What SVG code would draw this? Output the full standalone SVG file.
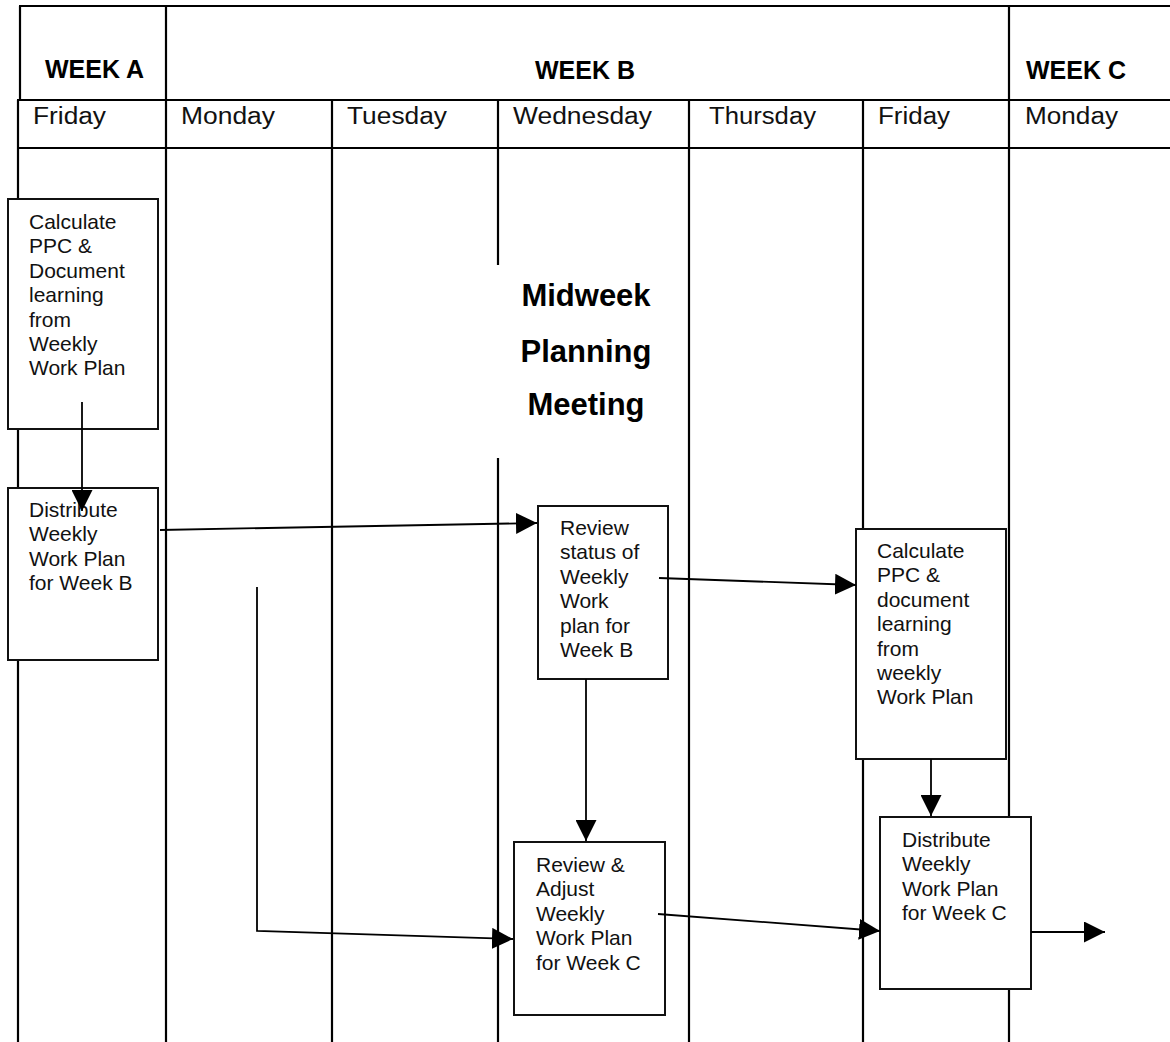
<svg xmlns="http://www.w3.org/2000/svg" width="1170" height="1042" viewBox="0 0 1170 1042">
<style>
.grid line{stroke:#000;stroke-width:2.2}
.hdr{font-family:"Liberation Sans",Arial,sans-serif;font-weight:bold;font-size:25px;fill:#000}
.day{font-family:"Liberation Sans",Arial,sans-serif;font-size:23.5px;fill:#111}
.mid{font-family:"Liberation Sans",Arial,sans-serif;font-weight:bold;font-size:31px;fill:#000;text-anchor:middle}
.box rect{fill:#fff;stroke:#111;stroke-width:2}
.box text{font-family:"Liberation Sans",Arial,sans-serif;font-size:21px;fill:#111}
.conn line,.conn polyline{stroke:#000;stroke-width:1.8;fill:none}
</style>
<defs>
<marker id="ah" markerUnits="userSpaceOnUse" markerWidth="21" markerHeight="21" refX="21" refY="10.5" orient="auto">
<path d="M0,0 L21,10.5 L0,21 z" fill="#000"/>
</marker>
</defs>
<rect width="1170" height="1042" fill="#fff"/>
<g id="table" class="grid">
<line x1="19" y1="6" x2="1170" y2="6"/>
<line x1="20" y1="6" x2="20" y2="100"/>
<line x1="166" y1="6" x2="166" y2="1042"/>
<line x1="1009" y1="6" x2="1009" y2="1042"/>
<line x1="17" y1="100" x2="1170" y2="100"/>
<line x1="17" y1="148" x2="1170" y2="148"/>
<line x1="18" y1="100" x2="18" y2="1042"/>
<line x1="332" y1="100" x2="332" y2="1042"/>
<line x1="498" y1="100" x2="498" y2="265"/>
<line x1="498" y1="458" x2="498" y2="1042"/>
<line x1="689" y1="100" x2="689" y2="1042"/>
<line x1="863" y1="100" x2="863" y2="1042"/>
</g>
<g id="headers">
<text class="hdr" x="45" y="78">WEEK A</text>
<text class="hdr" x="535" y="79">WEEK B</text>
<text class="hdr" x="1026" y="79">WEEK C</text>
<text class="day" x="33" y="124" textLength="73" lengthAdjust="spacingAndGlyphs">Friday</text>
<text class="day" x="181" y="124" textLength="94" lengthAdjust="spacingAndGlyphs">Monday</text>
<text class="day" x="347" y="124" textLength="100" lengthAdjust="spacingAndGlyphs">Tuesday</text>
<text class="day" x="513" y="124" textLength="139" lengthAdjust="spacingAndGlyphs">Wednesday</text>
<text class="day" x="709" y="124" textLength="107" lengthAdjust="spacingAndGlyphs">Thursday</text>
<text class="day" x="878" y="124" textLength="72" lengthAdjust="spacingAndGlyphs">Friday</text>
<text class="day" x="1025" y="124" textLength="93" lengthAdjust="spacingAndGlyphs">Monday</text>
</g>
<g id="midweek">
<text class="mid" x="586" y="306">Midweek</text>
<text class="mid" x="586" y="362">Planning</text>
<text class="mid" x="586" y="415">Meeting</text>
</g>
<g id="n1" class="box">
<rect x="8" y="199" width="150" height="230"/>
<text x="29" y="229"><tspan x="29">Calculate</tspan><tspan x="29" dy="24.4">PPC &amp;</tspan><tspan x="29" dy="24.4">Document</tspan><tspan x="29" dy="24.4">learning</tspan><tspan x="29" dy="24.4">from</tspan><tspan x="29" dy="24.4">Weekly</tspan><tspan x="29" dy="24.4">Work Plan</tspan></text>
</g>
<g id="n2" class="box">
<rect x="8" y="488" width="150" height="172"/>
<text x="29" y="517"><tspan x="29">Distribute</tspan><tspan x="29" dy="24.4">Weekly</tspan><tspan x="29" dy="24.4">Work Plan</tspan><tspan x="29" dy="24.4">for Week B</tspan></text>
</g>
<g id="n3" class="box">
<rect x="538" y="506" width="130" height="173"/>
<text x="560" y="535"><tspan x="560">Review</tspan><tspan x="560" dy="24.4">status of</tspan><tspan x="560" dy="24.4">Weekly</tspan><tspan x="560" dy="24.4">Work</tspan><tspan x="560" dy="24.4">plan for</tspan><tspan x="560" dy="24.4">Week B</tspan></text>
</g>
<g id="n4" class="box">
<rect x="856" y="529" width="150" height="230"/>
<text x="877" y="558"><tspan x="877">Calculate</tspan><tspan x="877" dy="24.4">PPC &amp;</tspan><tspan x="877" dy="24.4">document</tspan><tspan x="877" dy="24.4">learning</tspan><tspan x="877" dy="24.4">from</tspan><tspan x="877" dy="24.4">weekly</tspan><tspan x="877" dy="24.4">Work Plan</tspan></text>
</g>
<g id="n5" class="box">
<rect x="880" y="817" width="151" height="172"/>
<text x="902" y="847"><tspan x="902">Distribute</tspan><tspan x="902" dy="24.4">Weekly</tspan><tspan x="902" dy="24.4">Work Plan</tspan><tspan x="902" dy="24.4">for Week C</tspan></text>
</g>
<g id="n6" class="box">
<rect x="514" y="842" width="151" height="173"/>
<text x="536" y="872"><tspan x="536">Review &amp;</tspan><tspan x="536" dy="24.4">Adjust</tspan><tspan x="536" dy="24.4">Weekly</tspan><tspan x="536" dy="24.4">Work Plan</tspan><tspan x="536" dy="24.4">for Week C</tspan></text>
</g>
<g id="connectors" class="conn">
<line x1="82" y1="402" x2="82" y2="511" marker-end="url(#ah)"/>
<line x1="160" y1="530" x2="537" y2="523" marker-end="url(#ah)"/>
<line x1="659" y1="578" x2="856" y2="585" marker-end="url(#ah)"/>
<line x1="586" y1="679" x2="586" y2="841" marker-end="url(#ah)"/>
<line x1="931" y1="759" x2="931" y2="816" marker-end="url(#ah)"/>
<line x1="658" y1="914" x2="880" y2="931" marker-end="url(#ah)"/>
<polyline points="257,587 257,931 513,939" marker-end="url(#ah)"/>
<line x1="1031" y1="932" x2="1105" y2="932" marker-end="url(#ah)"/>
</g>
</svg>
